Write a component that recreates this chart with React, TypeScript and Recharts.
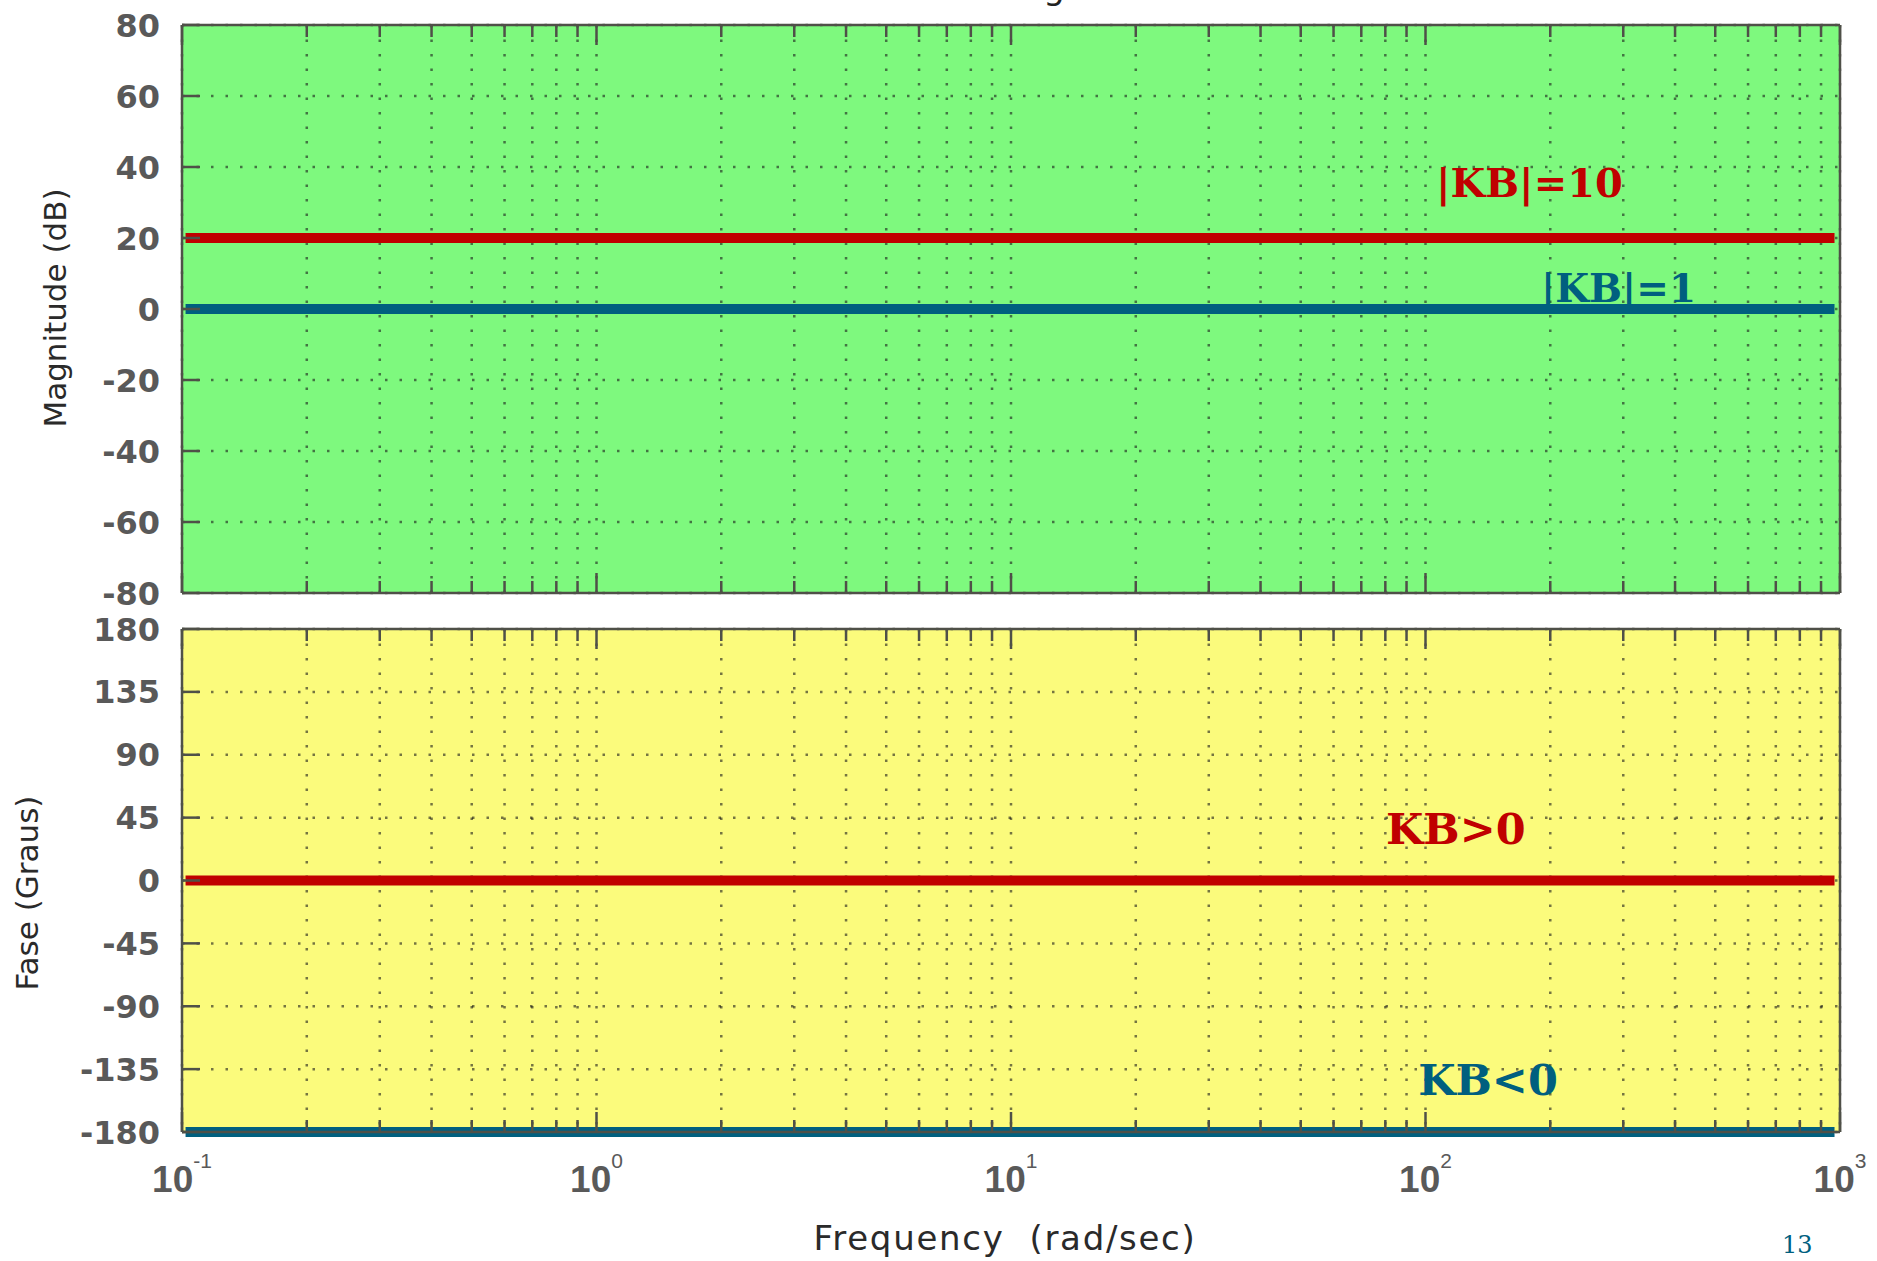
import React from 'react';
import { LineChart, Line, XAxis, YAxis, CartesianGrid, ReferenceDot } from 'recharts';

const W = 1877;
const H = 1261;
const PLOT_LEFT = 182;
const PLOT_RIGHT = 1840;

// frequency axis (rad/sec), log scale, one decade per major tick
const decades = [0.1, 1, 10, 100, 1000];
const decadeExponents = ['-1', '0', '1', '2', '3'];
const freqTicks = [
  0.1, 0.2, 0.3, 0.4, 0.5, 0.6, 0.7, 0.8, 0.9,
  1, 2, 3, 4, 5, 6, 7, 8, 9,
  10, 20, 30, 40, 50, 60, 70, 80, 90,
  100, 200, 300, 400, 500, 600, 700, 800, 900,
  1000,
];

const magTicks = [80, 60, 40, 20, 0, -20, -40, -60, -80];
const phaseTicks = [180, 135, 90, 45, 0, -45, -90, -135, -180];

// constant-gain responses
const freqSpan = [0.102, 970];
const magKB10 = [20, 20];
const magKB1 = [0, 0];
const phaseKBpos = [0, 0];
const phaseKBneg = [-180, -180];

const magData = freqSpan.map((f, i) => ({ f, kb10: magKB10[i], kb1: magKB1[i] }));
const phaseData = freqSpan.map((f, i) => ({ f, pos: phaseKBpos[i], neg: phaseKBneg[i] }));

const RED = '#c00000';
const BLUE = '#005f7f';
const AXIS = '#4f5048';
const TICK_FONT = 'DejaVu Sans, sans-serif';

const FreqTick = ({ x, y, payload, dir, showLabel }: any) => {
  const idx = decades.indexOf(payload.value);
  const len = idx >= 0 ? 20 : 12;
  return (
    <g>
      <line x1={x} x2={x} y1={y} y2={y + dir * len} stroke={AXIS} strokeWidth={2.5} />
      {showLabel && idx >= 0 && (
        <text x={x} y={y + 60} textAnchor="middle" fill="#595959"
          fontFamily="Liberation Sans, Arial, sans-serif" fontWeight="bold" fontSize={37}>
          <tspan>10</tspan>
          <tspan dy={-24} fontSize={21} fontWeight="normal">{decadeExponents[idx]}</tspan>
        </text>
      )}
    </g>
  );
};

const ValueTick = ({ x, y, payload, dir, showLabel }: any) => (
  <g>
    <line x1={x} x2={x + dir * 18} y1={y} y2={y} stroke={AXIS} strokeWidth={2.5} />
    {showLabel && (
      <text x={x - 22} y={y} dy="0.36em" textAnchor="end" fill="#595959"
        fontFamily={TICK_FONT} fontWeight="bold" fontSize={32}>
        {payload.value}
      </text>
    )}
  </g>
);

const annotation = (text: string, color: string, size: number, lift: number) => (p: any) => (
  <text x={p.cx} y={p.cy - lift} fill={color} fontFamily="DejaVu Serif, serif"
    fontWeight="bold" fontSize={size}>
    {text}
  </text>
);

type PanelProps = {
  plotTop: number;
  plotBottom: number;
  domain: [number, number];
  ticks: number[];
  fill: string;
  data: any[];
  showFreqLabels: boolean;
  children: React.ReactNode;
};

// each axis is 1px thick, so the margins stop 1px short of the plot box
const Panel = ({ plotTop, plotBottom, domain, ticks, fill, data, showFreqLabels, children }: PanelProps) => (
  <div style={{ position: 'absolute', left: 0, top: 0 }}>
    <LineChart
      width={W}
      height={H}
      data={data}
      margin={{ top: plotTop - 1, right: W - PLOT_RIGHT - 1, bottom: H - plotBottom - 1, left: PLOT_LEFT - 1 }}
    >
      <CartesianGrid fill={fill} stroke="#1a1a1a" strokeOpacity={0.6} strokeWidth={2.5} strokeDasharray="2.5 12" />
      <XAxis dataKey="f" type="number" scale="log" domain={[0.1, 1000]} ticks={freqTicks} interval={0}
        height={1} tickSize={0} tickMargin={0} tickLine={false}
        axisLine={{ stroke: AXIS, strokeWidth: 2.5 }}
        tick={(p: any) => <FreqTick {...p} dir={-1} showLabel={showFreqLabels} />} />
      <XAxis xAxisId="top" orientation="top" dataKey="f" type="number" scale="log" domain={[0.1, 1000]}
        ticks={freqTicks} interval={0} height={1} tickSize={0} tickMargin={0} tickLine={false}
        axisLine={{ stroke: AXIS, strokeWidth: 2.5 }}
        tick={(p: any) => <FreqTick {...p} dir={1} showLabel={false} />} />
      <YAxis type="number" domain={domain} ticks={ticks} interval={0} width={1} tickSize={0} tickMargin={0}
        tickLine={false} axisLine={{ stroke: AXIS, strokeWidth: 2.5 }}
        tick={(p: any) => <ValueTick {...p} dir={1} showLabel />} />
      <YAxis yAxisId="right" orientation="right" type="number" domain={domain} ticks={ticks} interval={0}
        width={1} tickSize={0} tickMargin={0} tickLine={false} axisLine={{ stroke: AXIS, strokeWidth: 2.5 }}
        tick={(p: any) => <ValueTick {...p} dir={-1} showLabel={false} />} />
      {children}
    </LineChart>
  </div>
);

export default function App() {
  return (
    <div style={{ position: 'absolute', left: 0, top: 0, width: W, height: H, background: '#fff' }}>
      <Panel plotTop={25} plotBottom={593} domain={[-80, 80]} ticks={magTicks} fill="#7ef97e"
        data={magData} showFreqLabels={false}>
        <Line dataKey="kb10" stroke={RED} strokeWidth={10} dot={false} isAnimationActive={false} />
        <Line dataKey="kb1" stroke={BLUE} strokeWidth={10} dot={false} isAnimationActive={false} />
        <ReferenceDot x={106} y={20} r={0} shape={annotation('|KB|=10', RED, 40, 41)} />
        <ReferenceDot x={190} y={0} r={0} shape={annotation('|KB|=1', BLUE, 39, 7)} />
      </Panel>
      <Panel plotTop={629} plotBottom={1132} domain={[-180, 180]} ticks={phaseTicks} fill="#fbfb7c"
        data={phaseData} showFreqLabels>
        <Line dataKey="pos" stroke={RED} strokeWidth={10} dot={false} isAnimationActive={false} />
        <Line dataKey="neg" stroke={BLUE} strokeWidth={10} dot={false} isAnimationActive={false} />
        <ReferenceDot x={80.3} y={0} r={0} shape={annotation('KB>0', RED, 43, 37)} />
        <ReferenceDot x={96} y={-180} r={0} shape={annotation('KB<0', BLUE, 43, 37)} />
      </Panel>
      <svg width={W} height={H} style={{ position: 'absolute', left: 0, top: 0, pointerEvents: 'none' }}>
        <text x={1011} y={-1} textAnchor="middle" fontFamily={TICK_FONT} fontSize={34} fill="#222">
          Bode Diagram
        </text>
        <text transform="translate(66, 308) rotate(-90)" textAnchor="middle" fontFamily={TICK_FONT}
          fontSize={31} fill="#2a2a2a">
          Magnitude (dB)
        </text>
        <text transform="translate(38, 893) rotate(-90)" textAnchor="middle" fontFamily={TICK_FONT}
          fontSize={31} fill="#2a2a2a">
          Fase (Graus)
        </text>
        <text x={1005} y={1250} textAnchor="middle" fontFamily={TICK_FONT} fontSize={34}
          letterSpacing={1.7} fill="#2a2a2a">
          {'Frequency\u00a0 (rad/sec)'}
        </text>
        <text x={1782} y={1253} fontFamily="DejaVu Serif, serif" fontSize={24} fill={BLUE}>
          13
        </text>
      </svg>
    </div>
  );
}
